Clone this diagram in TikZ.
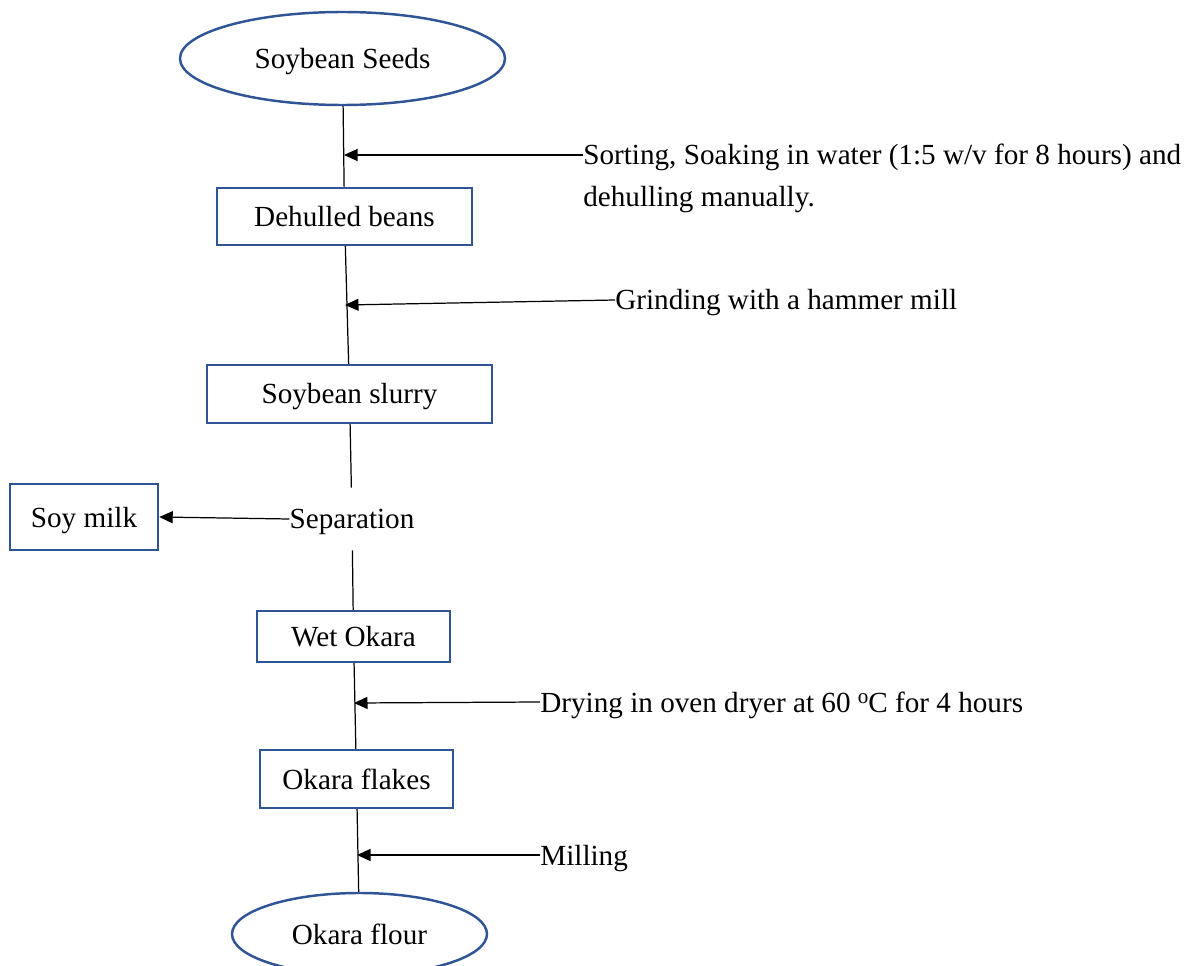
\documentclass[tikz,border=0pt]{standalone}
\usepackage{fontspec}
\setmainfont{Liberation Serif}
\usepackage{xcolor}
\definecolor{boxBlue}{HTML}{2F5597}
\usepackage{tikz}
\usetikzlibrary{
    shapes.geometric,
    arrows.meta,
    positioning,
    calc
}
\tikzset{
    % Base style for all nodes
    plain base/.style={
        font=\fontsize{16.6}{23.9}\selectfont,
        align=center,
        text=black,
        inner sep=0pt,
    },
    % Single line text, sitting a little low like the original
    one line/.style={
        plain base,
        text height=0.52cm,
        text depth=0.12cm,
    },
    % Start/Stop nodes - blue ellipse
    startstop/.style={
        one line,
        ellipse,
        draw=boxBlue,
        line width=1.4pt,
    },
    % Process nodes - blue rectangle
    process/.style={
        one line,
        rectangle,
        draw=boxBlue,
        line width=1.4pt,
    },
    % Side notes - plain text
    note/.style={
        plain base,
        align=left,
    },
    % Plain joining line
    link/.style={
        draw=black,
        line width=0.7pt,
    },
    % Arrow into a line
    arrow/.style={
        -{Triangle[length=0.27cm, width=0.24cm]},
        draw=black,
        line width=0.7pt,
    },
}
\begin{document}
\begin{tikzpicture}[x=0.02cm, y=-0.02cm]
    \useasboundingbox (0,0) rectangle (1194,966);

    \node (seeds) [startstop, minimum width=325*0.02cm, minimum height=93*0.02cm] at (342.5,58.5) {Soybean Seeds};
    \node (dehulled) [process, minimum width=255*0.02cm, minimum height=57*0.02cm] at (344.5,216.5) {Dehulled beans};
    \node (slurry) [process, minimum width=285*0.02cm, minimum height=58*0.02cm] at (349.5,394) {Soybean slurry};
    \node (separation) [one line, minimum height=62*0.02cm, minimum width=124*0.02cm] at (352,519) {Separation};
    \node (soy_milk) [process, minimum width=148*0.02cm, minimum height=66*0.02cm] at (84,517) {Soy milk};
    \node (wet_okara) [process, minimum width=193*0.02cm, minimum height=51*0.02cm] at (353.5,636.5) {Wet Okara};
    \node (okara_flakes) [process, minimum width=193*0.02cm, minimum height=58*0.02cm] at (356.5,779) {Okara flakes};
    \node (okara_flour) [startstop, minimum width=255*0.02cm, minimum height=82*0.02cm] at (359.5,934) {Okara flour};

    % side notes
    \node (sorting) [note, anchor=north west] at (583,144) {Sorting, Soaking in water (1:5 w/v for 8 hours) and\\dehulling manually.};
    \node (grinding) [note, one line, anchor=west] at (615,300) {Grinding with a hammer mill};
    \node (drying) [note, one line, anchor=west] at (540,702) {Drying in oven dryer at 60 {\fontsize{12}{12}\selectfont\raisebox{0.9ex}{o}}C for 4 hours};
    \node (milling) [note, one line, anchor=west] at (540,855) {Milling};

    \coordinate (sorting_in) at (583,155);
    \coordinate (hit_sorting) at (344,155);
    \coordinate (hit_grinding) at (345,305);
    \coordinate (hit_drying) at (354,703);
    \coordinate (hit_milling) at (357,855);

    \draw [link] (seeds) -- (dehulled);
    \draw [link] (dehulled) -- (slurry);
    \draw [link] (slurry) -- (separation);
    \draw [link] (separation) -- (wet_okara);
    \draw [link] (wet_okara) -- (okara_flakes);
    \draw [link] (okara_flakes) -- (okara_flour);

    \draw [arrow] (sorting_in) -- (hit_sorting);
    \draw [arrow] (grinding.west) -- (hit_grinding);
    \draw [arrow] (drying.west) -- (hit_drying);
    \draw [arrow] (milling.west) -- (hit_milling);
    \draw [arrow] (separation.west) -- (soy_milk.east);
\end{tikzpicture}
\end{document}
